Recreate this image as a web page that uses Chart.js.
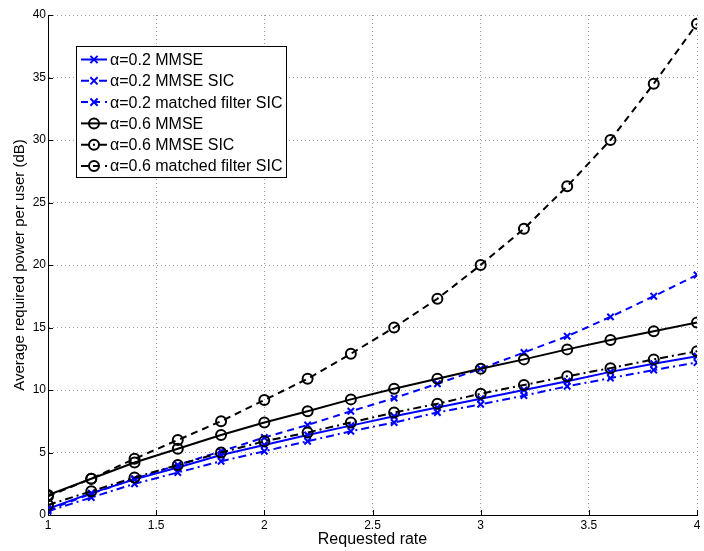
<!DOCTYPE html>
<html>
<head>
<meta charset="utf-8">
<script src="https://cdn.jsdelivr.net/npm/chart.js"></script>
<style>
  body { margin: 0; background: #fff; }
  canvas { display: block; }
</style>
</head>
<body>
<canvas id="chartCanvas" width="704" height="551"></canvas>
<script>
// requested rate on the x axis
const rates = [1.0, 1.2, 1.4, 1.6, 1.8, 2.0, 2.2, 2.4, 2.6, 2.8, 3.0, 3.2, 3.4, 3.6, 3.8, 4.0];

// average required power per user (dB)
const a02Mmse    = [0.5, 1.75, 2.85, 3.8, 4.8, 5.6, 6.4, 7.15, 7.9, 8.6, 9.3, 10.0, 10.7, 11.45, 12.1, 12.7];
const a02MmseSic = [0.3, 1.4, 2.5, 3.4, 4.3, 5.1, 5.9, 6.7, 7.4, 8.2, 8.85, 9.55, 10.3, 10.95, 11.6, 12.2];
const a02MfSic   = [0.4, 1.7, 2.9, 4.0, 5.1, 6.2, 7.2, 8.3, 9.35, 10.5, 11.7, 13.0, 14.3, 15.85, 17.5, 19.2];
const a06Mmse    = [1.6, 2.9, 4.2, 5.3, 6.4, 7.4, 8.3, 9.25, 10.1, 10.9, 11.7, 12.45, 13.25, 14.0, 14.7, 15.4];
const a06MmseSic = [0.8, 1.9, 3.0, 4.0, 5.0, 5.9, 6.6, 7.4, 8.2, 8.9, 9.7, 10.4, 11.1, 11.75, 12.45, 13.1];
const a06MfSic   = [1.5, 2.9, 4.5, 6.0, 7.5, 9.2, 10.9, 12.9, 15.0, 17.3, 20.0, 22.9, 26.3, 30.0, 34.5, 39.3];

const seriesLabels = [
  'α=0.2 MMSE', 'α=0.2 MMSE SIC', 'α=0.2 matched filter SIC',
  'α=0.6 MMSE', 'α=0.6 MMSE SIC', 'α=0.6 matched filter SIC'
];
const xTicks = [1, 1.5, 2, 2.5, 3, 3.5, 4];
const yTicks = [0, 5, 10, 15, 20, 25, 30, 35, 40];

const FONT = "'Liberation Sans', Arial, Helvetica, sans-serif";
const SOLID = [];
const DASH = [7, 5];
const DASHDOT = [8, 4, 2, 4];

function series(label, values, color, dash, marker, idx) {
  return {
    label: label,
    data: rates.map((r, i) => ({ x: r, y: values[i] })),
    borderColor: color,
    backgroundColor: 'rgba(0,0,0,0)',
    borderWidth: 2,
    borderDash: dash,
    pointStyle: marker,
    pointRadius: marker === 'circle' ? 5 : 4.5,
    pointBorderWidth: 2,
    pointBorderColor: color,
    pointBackgroundColor: 'rgba(0,0,0,0)',
    tension: 0,
    order: 10 - idx
  };
}

const datasets = [
  series(seriesLabels[0], a02Mmse, '#0000ff', SOLID, 'crossRot', 0),
  series(seriesLabels[1], a02MmseSic, '#0000ff', DASHDOT, 'crossRot', 1),
  series(seriesLabels[2], a02MfSic, '#0000ff', DASH, 'crossRot', 2),
  series(seriesLabels[3], a06Mmse, '#000000', SOLID, 'circle', 3),
  series(seriesLabels[4], a06MmseSic, '#000000', DASHDOT, 'circle', 4),
  series(seriesLabels[5], a06MfSic, '#000000', DASH, 'circle', 5)
];

function drawMarker(ctx, style, x, y, r) {
  ctx.beginPath();
  if (style === 'circle') {
    ctx.arc(x, y, r, 0, Math.PI * 2);
  } else {
    ctx.moveTo(x - r * 0.8, y - r * 0.8); ctx.lineTo(x + r * 0.8, y + r * 0.8);
    ctx.moveTo(x + r * 0.8, y - r * 0.8); ctx.lineTo(x - r * 0.8, y + r * 0.8);
  }
  ctx.stroke();
}

// inward tick marks on the left and bottom axes
const innerTicks = {
  id: 'innerTicks',
  afterDraw(chart) {
    const { ctx, chartArea, scales } = chart;
    ctx.save();
    ctx.strokeStyle = '#000';
    ctx.lineWidth = 1;
    ctx.beginPath();
    xTicks.forEach(v => {
      const px = Math.round(scales.x.getPixelForValue(v)) + 0.5;
      ctx.moveTo(px, chartArea.bottom);
      ctx.lineTo(px, chartArea.bottom - 5);
    });
    yTicks.forEach(v => {
      const py = Math.round(scales.y.getPixelForValue(v)) + 0.5;
      ctx.moveTo(chartArea.left, py);
      ctx.lineTo(chartArea.left + 5, py);
    });
    ctx.stroke();
    ctx.restore();
  }
};

// boxed legend in the upper-left of the plot
const boxLegend = {
  id: 'boxLegend',
  afterDraw(chart) {
    const ctx = chart.ctx;
    const left = 76, top = 46, width = 210, height = 131;
    const rowH = 21.3;
    ctx.save();
    ctx.fillStyle = '#fff';
    ctx.fillRect(left, top, width, height);
    ctx.strokeStyle = '#000';
    ctx.lineWidth = 1;
    ctx.setLineDash([]);
    ctx.strokeRect(left + 0.5, top + 0.5, width, height);
    chart.data.datasets.forEach((ds, i) => {
      const y = top + 13.5 + i * rowH;
      ctx.strokeStyle = ds.borderColor;
      ctx.lineWidth = ds.borderWidth;
      ctx.setLineDash(ds.borderDash);
      ctx.beginPath();
      ctx.moveTo(left + 5, y);
      ctx.lineTo(left + 31, y);
      ctx.stroke();
      ctx.setLineDash([]);
      drawMarker(ctx, ds.pointStyle, left + 18, y, ds.pointRadius);
      ctx.fillStyle = '#000';
      ctx.font = '16px ' + FONT;
      ctx.textBaseline = 'middle';
      ctx.textAlign = 'left';
      ctx.fillText(ds.label, left + 34, y + 1);
    });
    ctx.restore();
  }
};

new Chart(document.getElementById('chartCanvas').getContext('2d'), {
  type: 'line',
  data: { datasets: datasets },
  plugins: [innerTicks, boxLegend],
  options: {
    responsive: false,
    animation: false,
    layout: { padding: { left: 0, right: 4, top: 15, bottom: 0 } },
    plugins: { legend: { display: false }, tooltip: { enabled: false } },
    scales: {
      x: {
        type: 'linear',
        min: 1,
        max: 4,
        afterFit: s => { s.height = 36; },
        afterBuildTicks: s => { s.ticks = xTicks.map(v => ({ value: v })); },
        ticks: {
          color: '#000',
          font: { family: FONT, size: 12 },
          padding: 3,
          maxRotation: 0,
          callback: v => String(v)
        },
        grid: { color: '#a0a0a0', lineWidth: 1, drawTicks: false },
        border: { display: true, color: '#000', width: 1, dash: [1, 3] },
        title: {
          display: true,
          text: 'Requested rate',
          color: '#000',
          font: { family: FONT, size: 16 },
          padding: { top: 0, bottom: 2 }
        }
      },
      y: {
        type: 'linear',
        min: 0,
        max: 40,
        afterFit: s => { s.width = 48; },
        afterBuildTicks: s => { s.ticks = yTicks.map(v => ({ value: v })); },
        ticks: {
          color: '#000',
          font: { family: FONT, size: 12 },
          padding: 2,
          callback: v => String(v)
        },
        grid: { color: '#a0a0a0', lineWidth: 1, drawTicks: false },
        border: { display: true, color: '#000', width: 1, dash: [1, 3] },
        title: {
          display: true,
          text: 'Average required power per user (dB)',
          color: '#000',
          font: { family: FONT, size: 15 },
          padding: { top: 11, bottom: 0 }
        }
      }
    }
  }
});
</script>
</body>
</html>
